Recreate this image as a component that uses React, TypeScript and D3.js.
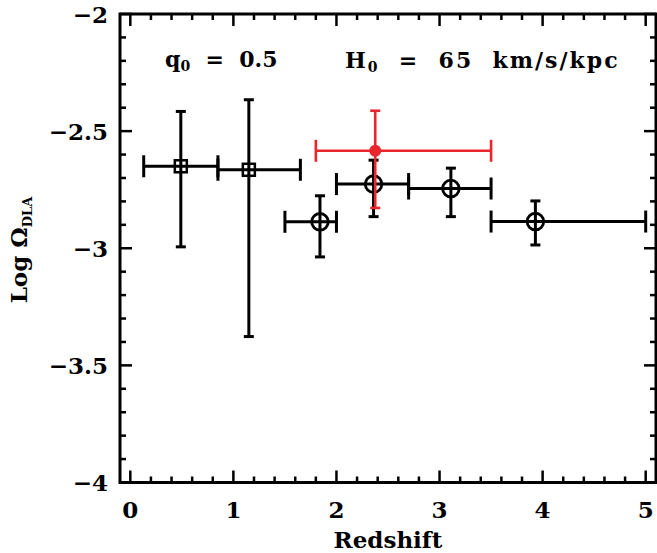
import * as d3 from "d3";

const redshift = [0.49, 1.15, 1.84, 2.36, 3.11, 3.93];
const zLow = [0.13, 0.85, 1.5, 2.0, 2.7, 3.5];
const zHigh = [0.85, 1.65, 2.0, 2.7, 3.5, 5.0];
const logOmega = [-2.65, -2.665, -2.887, -2.726, -2.745, -2.886];
const logUpper = [-2.416, -2.366, -2.776, -2.624, -2.658, -2.798];
const logLower = [-2.994, -3.377, -3.037, -2.865, -2.865, -2.986];
const markerKind = ["square", "square", "circle", "circle", "circle", "circle"];

// the red point
const redZ = [2.376];
const redZLow = [1.8];
const redZHigh = [3.5];
const redLog = [-2.584];
const redUpper = [-2.413];
const redLower = [-2.828];

const xTickLabels = [0, 1, 2, 3, 4, 5];
const yTickLabels = [-2, -2.5, -3, -3.5, -4];

const W = 657;
const H = 553;
const margin = { left: 120, right: 1, top: 14, bottom: 70.5 };
const FONT = "'DejaVu Serif', serif";
const NB = "\u00A0";

export default function App() {
  const x = d3.scaleLinear().domain([-0.1, 5.1]).range([margin.left, W - margin.right]);
  const y = d3.scaleLinear().domain([-4, -2]).range([H - margin.bottom, margin.top]);
  const [x0, x1] = x.range();
  const [yb, yt] = y.range();

  const xMinor = d3.range(0, 5.01, 0.2).map((v) => +v.toFixed(2));
  const yMinor = d3.range(-4, -1.99, 0.1).map((v) => +v.toFixed(2));
  const isMajorX = (v: number) => Math.abs(v - Math.round(v)) < 1e-6;
  const isMajorY = (v: number) => Math.abs(v * 2 - Math.round(v * 2)) < 1e-6;
  const major = 12;
  const minor = 6;

  const ticks: JSX.Element[] = [];
  xMinor.forEach((v, i) => {
    const len = isMajorX(v) ? major : minor;
    ticks.push(<line key={"xb" + i} x1={x(v)} x2={x(v)} y1={yb} y2={yb - len} />);
    ticks.push(<line key={"xt" + i} x1={x(v)} x2={x(v)} y1={yt} y2={yt + len} />);
  });
  yMinor.forEach((v, i) => {
    const len = isMajorY(v) ? major : minor;
    ticks.push(<line key={"yl" + i} x1={x0} x2={x0 + len} y1={y(v)} y2={y(v)} />);
    ticks.push(<line key={"yr" + i} x1={x1} x2={x1 - len} y1={y(v)} y2={y(v)} />);
  });

  const fmt = (v: number) => (v < 0 ? "\u2212" + Math.abs(v) : String(v));
  const spaced = (s: string) => s.replace(/ /g, NB);

  const errorBar = (
    key: string, cx: number, lo: number, hi: number, cy: number, up: number, dn: number, color: string, sw: number
  ) => (
    <g key={key} stroke={color} strokeWidth={sw} fill="none">
      <line x1={x(lo)} x2={x(hi)} y1={y(cy)} y2={y(cy)} />
      <line x1={x(lo)} x2={x(lo)} y1={y(cy) - 11} y2={y(cy) + 11} />
      <line x1={x(hi)} x2={x(hi)} y1={y(cy) - 11} y2={y(cy) + 11} />
      <line x1={x(cx)} x2={x(cx)} y1={y(up)} y2={y(dn)} />
      <line x1={x(cx) - 5} x2={x(cx) + 5} y1={y(up)} y2={y(up)} />
      <line x1={x(cx) - 5} x2={x(cx) + 5} y1={y(dn)} y2={y(dn)} />
    </g>
  );

  return (
    <>
      <style>{`body{margin:0}`}</style>
      <svg width={W} height={H} style={{ display: "block", background: "#fff" }}>
        <g stroke="#000" strokeWidth={2.5}>{ticks}</g>
        <rect x={x0} y={yt} width={x1 - x0} height={yb - yt} fill="none" stroke="#000" strokeWidth={3} />

        {redshift.map((z, i) =>
          errorBar("e" + i, z, zLow[i], zHigh[i], logOmega[i], logUpper[i], logLower[i], "#000", 3)
        )}
        {redshift.map((z, i) =>
          markerKind[i] === "square" ? (
            <rect key={"m" + i} x={x(z) - 6} y={y(logOmega[i]) - 6} width={12} height={12}
              fill="none" stroke="#000" strokeWidth={2.5} />
          ) : (
            <circle key={"m" + i} cx={x(z)} cy={y(logOmega[i])} r={8.3} fill="none" stroke="#000" strokeWidth={2.8} />
          )
        )}

        {redZ.map((z, i) =>
          errorBar("r" + i, z, redZLow[i], redZHigh[i], redLog[i], redUpper[i], redLower[i], "#e8262b", 2.6)
        )}
        {redZ.map((z, i) => (
          <circle key={"rm" + i} cx={x(z)} cy={y(redLog[i])} r={6} fill="#e8262b" />
        ))}

        <g fontFamily={FONT} fontWeight="bold" fontSize={23} fill="#000">
          {xTickLabels.map((v) => (
            <text key={"xl" + v} x={x(v)} y={yb + 35} textAnchor="middle">{v}</text>
          ))}
          {yTickLabels.map((v) => (
            <text key={"yl" + v} x={x0 - 12} y={y(v) + 8.5} textAnchor="end">{fmt(v)}</text>
          ))}
          <text x={(x0 + x1) / 2} y={548} textAnchor="middle" fontSize={23}>Redshift</text>
          <text transform={`translate(27,250) rotate(-90)`} textAnchor="middle" fontSize={23}>
            {spaced("Log \u03A9")}<tspan fontSize={13} dy={5}>DLA</tspan>
          </text>
          <text x={165} y={67} fontSize={22}>
            q<tspan fontSize={14} dy={4}>0</tspan><tspan dy={-4}>{spaced("  =  0.5")}</tspan>
          </text>
          <text x={345} y={68} fontSize={22} letterSpacing={2}>
            H<tspan fontSize={14} dy={4}>0</tspan><tspan dy={-4}>{spaced("  =  65  km/s/kpc")}</tspan>
          </text>
        </g>
      </svg>
    </>
  );
}
